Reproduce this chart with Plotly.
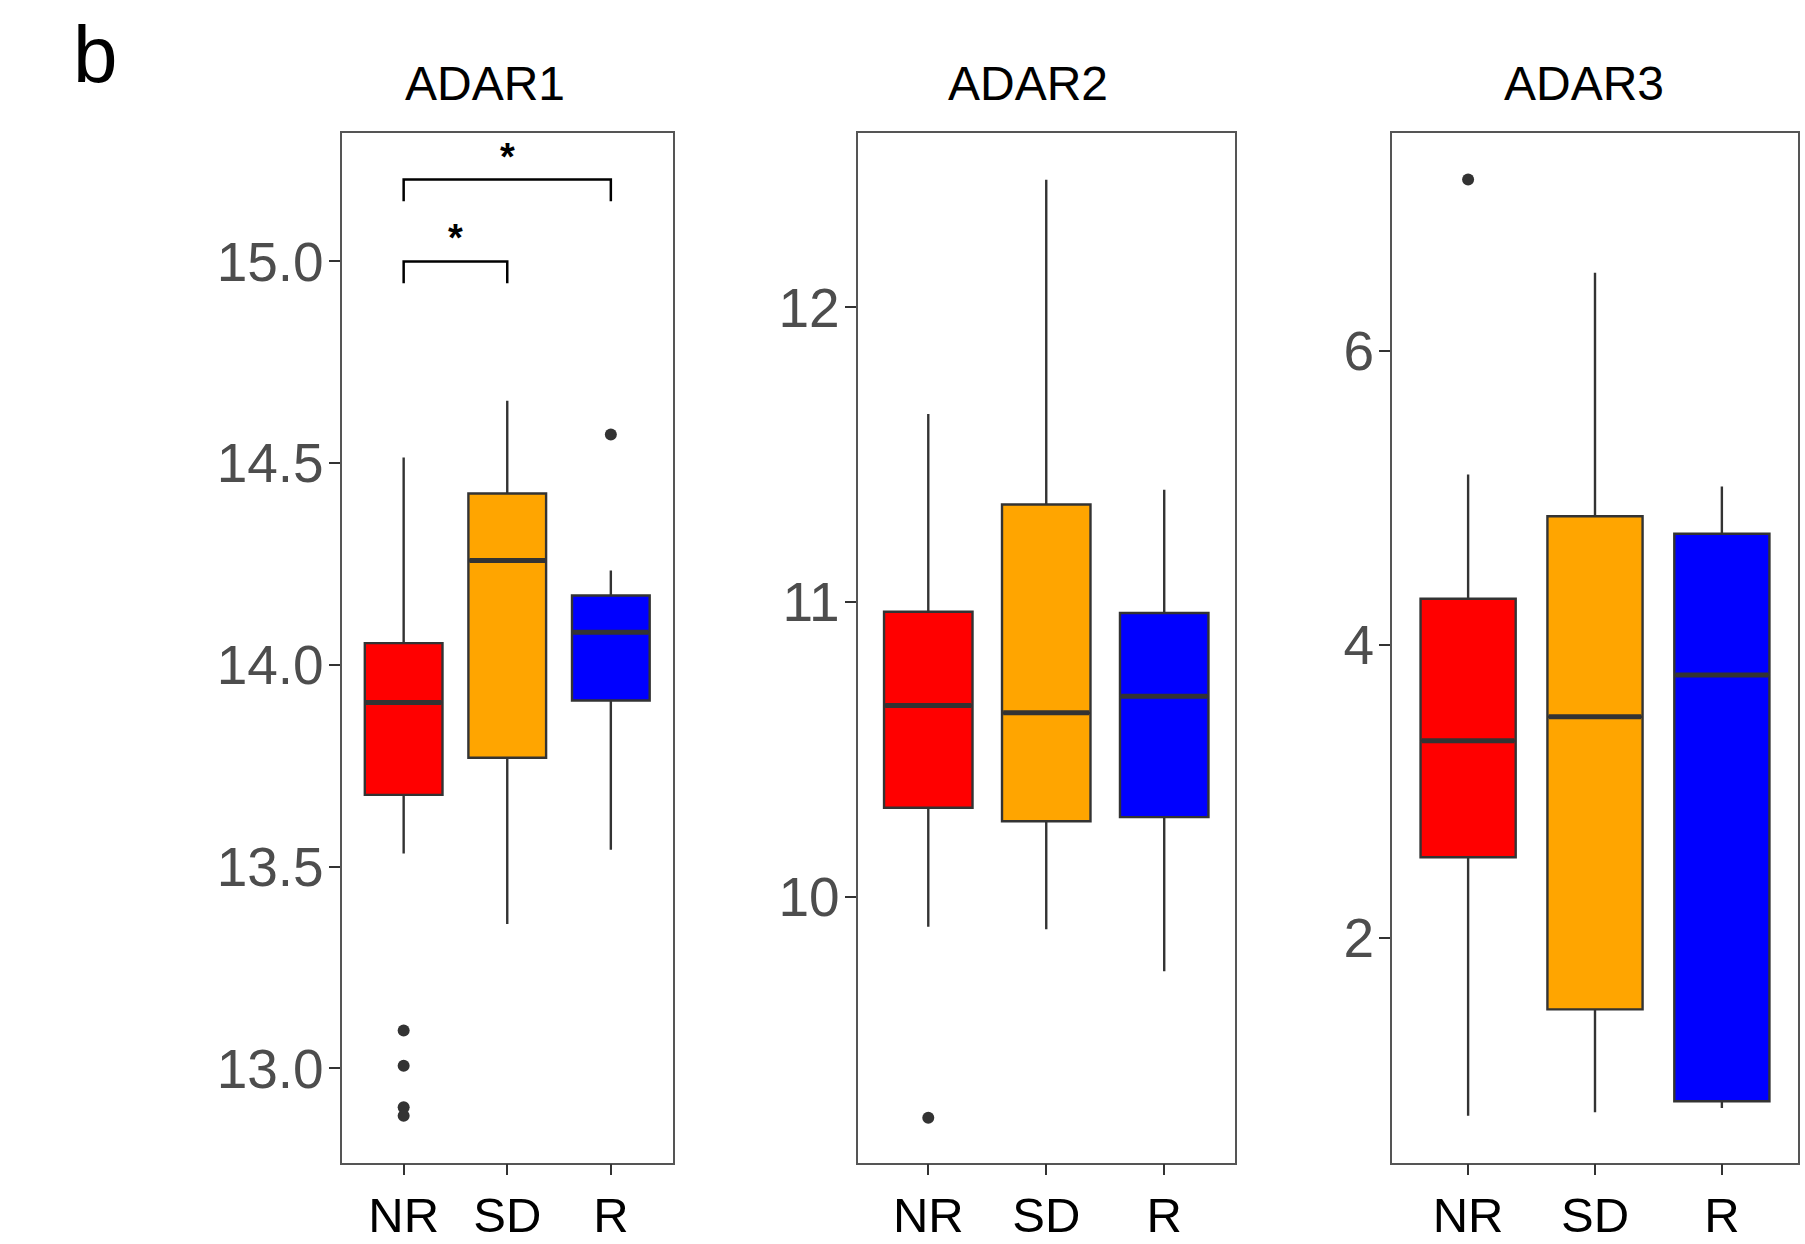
import plotly.graph_objects as go

# ---------------- data ----------------
groups = ["NR", "SD", "R"]
colors = ["#FF0000", "#FFA500", "#0000FF"]
panels = ["ADAR1", "ADAR2", "ADAR3"]

adar1_lf = [13.533, 13.358, 13.542]
adar1_q1 = [13.678, 13.770, 13.912]
adar1_med = [13.907, 14.259, 14.081]
adar1_q3 = [14.054, 14.425, 14.172]
adar1_uf = [14.514, 14.655, 14.234]
adar1_out = [[13.094, 13.007, 12.904, 12.883], [], [14.571]]

adar2_lf = [9.898, 9.890, 9.747]
adar2_q1 = [10.302, 10.256, 10.270]
adar2_med = [10.649, 10.624, 10.680]
adar2_q3 = [10.967, 11.331, 10.963]
adar2_uf = [11.638, 12.433, 11.381]
adar2_out = [[9.250], [], []]

adar3_lf = [0.791, 0.815, 0.843]
adar3_q1 = [2.552, 1.515, 0.889]
adar3_med = [3.346, 3.509, 3.793]
adar3_q3 = [4.313, 4.875, 4.756]
adar3_uf = [5.160, 6.534, 5.078]
adar3_out = [[7.169], [], []]

y_ranges = [[12.767, 15.319], [9.098, 12.593], [0.472, 7.488]]
y_ticks = [[13.0, 13.5, 14.0, 14.5, 15.0], [10, 11, 12], [2, 4, 6]]
y_tickfmt = [".1f", "d", "d"]

# significance brackets for ADAR1: (group a, group b, bracket height, label)
sig_a = [0, 0]
sig_b = [1, 2]
sig_y = [15.000, 15.203]
sig_label = ["*", "*"]
sig_drop = 0.054

# ---------------- layout geometry (pixels) ----------------
W, H = 1805, 1244
x_dom_px = [(341.5, 673.0), (857.5, 1235.0), (1392.0, 1798.0)]
title_x_px = [485, 1028, 1584]
y_top_px, y_bot_px = 132.7, 1162.5
box_width = 0.75

stats = [
    (adar1_lf, adar1_q1, adar1_med, adar1_q3, adar1_uf, adar1_out),
    (adar2_lf, adar2_q1, adar2_med, adar2_q3, adar2_uf, adar2_out),
    (adar3_lf, adar3_q1, adar3_med, adar3_q3, adar3_uf, adar3_out),
]

fig = go.Figure()
line_col = "#333333"

for p, (lf, q1, med, q3, uf, outs) in enumerate(stats):
    xa = "x" if p == 0 else f"x{p+1}"
    ya = "y" if p == 0 else f"y{p+1}"
    for i, g in enumerate(groups):
        fig.add_trace(go.Box(
            x=[i], q1=[q1[i]], median=[med[i]], q3=[q3[i]],
            lowerfence=[lf[i]], upperfence=[uf[i]],
            width=box_width, whiskerwidth=0,
            fillcolor=colors[i], line=dict(color=line_col, width=2.4),
            boxpoints=False, hoverinfo="skip", showlegend=False,
            xaxis=xa, yaxis=ya, name=g,
        ))
        # thicker median line (ggplot style)
        fig.add_trace(go.Scatter(
            x=[i - box_width / 2 + 0.01, i + box_width / 2 - 0.01],
            y=[med[i], med[i]], mode="lines",
            line=dict(color=line_col, width=5),
            hoverinfo="skip", showlegend=False, xaxis=xa, yaxis=ya,
        ))
        if outs[i]:
            fig.add_trace(go.Scatter(
                x=[i] * len(outs[i]), y=outs[i], mode="markers",
                marker=dict(color=line_col, size=12),
                hoverinfo="skip", showlegend=False, xaxis=xa, yaxis=ya,
            ))

# significance brackets on ADAR1
for a, b, yb, lab in zip(sig_a, sig_b, sig_y, sig_label):
    fig.add_trace(go.Scatter(
        x=[a, a, b, b], y=[yb - sig_drop, yb, yb, yb - sig_drop],
        mode="lines", line=dict(color="black", width=2.5),
        hoverinfo="skip", showlegend=False, xaxis="x", yaxis="y",
    ))
    fig.add_annotation(
        x=(a + b) / 2, y=yb, xref="x", yref="y", text="<b>" + lab + "</b>",
        showarrow=False, yanchor="bottom", yshift=0,
        font=dict(size=38, color="black", family="Liberation Sans"),
    )

layout = dict(
    width=W, height=H, margin=dict(l=0, r=0, t=0, b=0),
    paper_bgcolor="white", plot_bgcolor="white",
    font=dict(family="Liberation Sans, Arial, sans-serif"),
)
y_dom = [1 - y_bot_px / H, 1 - y_top_px / H]
for p in range(3):
    sfx = "" if p == 0 else str(p + 1)
    x0, x1 = x_dom_px[p]
    layout["xaxis" + sfx] = dict(
        domain=[x0 / W, x1 / W], range=[-0.6, 2.6],
        tickmode="array", tickvals=list(range(len(groups))), ticktext=groups,
        showgrid=False, zeroline=False, showline=True, mirror=True,
        linecolor="#555555", linewidth=1.6,
        ticks="outside", ticklen=11, tickwidth=2, tickcolor=line_col,
        tickfont=dict(size=49, color="black"), ticklabelstandoff=-2,
        anchor="y" + sfx, fixedrange=True,
    )
    layout["yaxis" + sfx] = dict(
        domain=y_dom, range=y_ranges[p],
        tickmode="array", tickvals=y_ticks[p],
        tickformat=y_tickfmt[p],
        showgrid=False, zeroline=False, showline=True, mirror=True,
        linecolor="#555555", linewidth=1.6,
        ticks="outside", ticklen=11, tickwidth=2, tickcolor=line_col,
        tickfont=dict(size=55, color="#4D4D4D"), ticklabelstandoff=-6,
        anchor="x" + sfx, fixedrange=True,
    )
    # panel title
    fig.add_annotation(
        x=title_x_px[p] / W, y=1 - 84 / H, xref="paper", yref="paper",
        text=panels[p], showarrow=False, xanchor="center", yanchor="middle",
        font=dict(size=48, color="black"),
    )

fig.add_annotation(
    x=71 / W, y=1 - 54 / H, xref="paper", yref="paper", text="b",
    showarrow=False, xanchor="left", yanchor="middle",
    font=dict(size=80, color="black"),
)

fig.update_layout(**layout)
fig.write_html("out.html")
